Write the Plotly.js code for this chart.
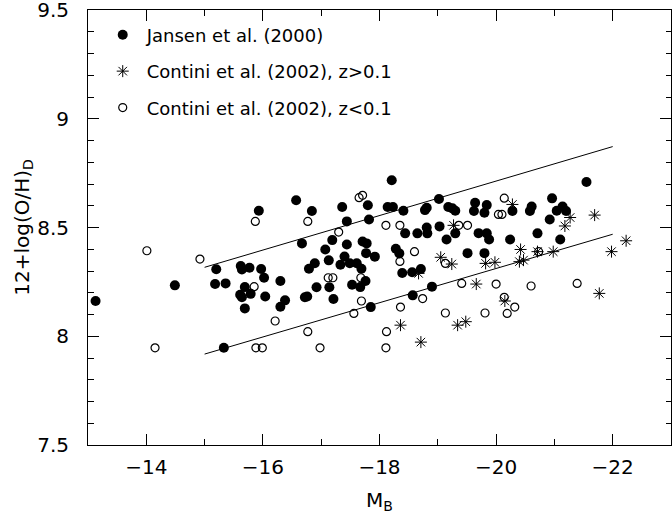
<!DOCTYPE html>
<html>
<head>
<meta charset="utf-8">
<script src="https://cdn.plot.ly/plotly-3.0.1.min.js"></script>
<style>
  html, body { margin: 0; padding: 0; background: #fff; }
  #chart { width: 672px; height: 529px; }
</style>
</head>
<body>
<div id="chart"></div>
<script>
// Jansen et al. (2000) — filled circles
const jansenMB = [
  -13.13, -14.49, -15.20, -15.18, -15.36, -15.33,
  -15.93, -16.57, -16.84, -17.36, -17.80, -17.44, -17.82, -16.67, -17.19, -17.07,
  -17.44, -17.71, -17.78, -17.77, -17.92, -17.40, -17.13, -16.89, -16.79, -17.33,
  -17.49, -17.61, -17.69, -15.62, -15.64, -15.77, -15.97, -16.02, -16.30, -15.69,
  -15.61, -15.64, -15.79, -15.69, -16.04, -16.38, -16.30, -16.72, -16.76, -16.92,
  -17.14, -17.21, -17.53, -17.67, -17.76, -17.85,
  -18.21, -18.14, -18.23, -18.41, -18.78, -18.81, -19.02, -19.18, -19.25, -19.30,
  -19.64, -19.62, -19.80, -19.84, -20.28, -18.44, -18.65, -18.81, -18.82, -19.03,
  -19.15, -19.30, -19.70, -19.84, -19.88, -20.24, -18.28, -18.34, -19.51, -19.80,
  -18.39, -18.56, -18.71, -18.90, -18.57,
  -21.55, -20.96, -20.61, -20.58, -21.04, -21.14, -21.20, -20.92, -20.71, -21.10
];
const jansenOH = [
  8.162, 8.234, 8.308, 8.240, 8.243, 7.947,
  8.577, 8.625, 8.576, 8.594, 8.602, 8.528, 8.537, 8.427, 8.442, 8.399,
  8.422, 8.436, 8.427, 8.382, 8.366, 8.367, 8.349, 8.336, 8.310, 8.329,
  8.336, 8.336, 8.310, 8.323, 8.307, 8.315, 8.309, 8.269, 8.254, 8.226,
  8.191, 8.179, 8.195, 8.128, 8.183, 8.165, 8.136, 8.179, 8.183, 8.225,
  8.225, 8.171, 8.237, 8.226, 8.254, 8.134,
  8.717, 8.594, 8.594, 8.577, 8.580, 8.591, 8.631, 8.594, 8.588, 8.577,
  8.614, 8.576, 8.568, 8.603, 8.576, 8.473, 8.473, 8.500, 8.473, 8.505,
  8.445, 8.473, 8.474, 8.473, 8.445, 8.445, 8.402, 8.381, 8.382, 8.382,
  8.291, 8.294, 8.309, 8.228, 8.188,
  8.709, 8.634, 8.596, 8.576, 8.577, 8.596, 8.576, 8.537, 8.473, 8.445
];

// Contini et al. (2002), z>0.1 — asterisks
const contHiMB = [
  -20.28, -19.27, -19.05, -19.24, -18.67, -19.82, -19.98, -19.66, -20.15, -18.36,
  -19.34, -19.48, -18.71, -21.27, -21.18, -21.69, -20.42, -20.71, -20.98, -20.40,
  -20.47, -21.98, -22.23, -21.77
];
const contHiOH = [
  8.606, 8.510, 8.363, 8.332, 8.289, 8.335, 8.340, 8.240, 8.162, 8.051,
  8.051, 8.067, 7.973, 8.546, 8.507, 8.557, 8.399, 8.389, 8.389, 8.343,
  8.350, 8.389, 8.439, 8.197
];

// Contini et al. (2002), z<0.1 — open circles
const contLoMB = [
  -14.01, -14.92, -14.15,
  -15.87, -16.77, -17.30, -17.65, -17.71, -17.12, -17.20, -17.68, -15.85, -17.69,
  -17.56, -16.21, -16.77, -15.88, -15.99, -16.98,
  -18.11, -18.35, -19.36, -19.51, -20.14, -20.04, -20.10, -18.60, -18.35, -19.13,
  -19.41, -20.00, -18.74, -18.36, -20.14, -20.32, -20.19, -19.13, -19.81, -18.12,
  -18.11,
  -20.73, -20.60, -21.39
];
const contLoOH = [
  8.393, 8.355, 7.947,
  8.528, 8.528, 8.479, 8.637, 8.648, 8.269, 8.269, 8.269, 8.228, 8.162,
  8.105, 8.070, 8.021, 7.947, 7.947, 7.947,
  8.510, 8.510, 8.510, 8.510, 8.635, 8.560, 8.560, 8.389, 8.344, 8.335,
  8.243, 8.240, 8.173, 8.134, 8.179, 8.134, 8.105, 8.107, 8.107, 8.021,
  7.947,
  8.389, 8.231, 8.243
];

// Envelope lines
const lineMB = [-15, -22];
const upperOH = [8.317, 8.872];
const lowerOH = [7.918, 8.469];

const xTicks = [-14, -16, -18, -20, -22];
const yTicks = [7.5, 8, 8.5, 9, 9.5];
const yTickText = ['7.5', '8', '8.5', '9', '9.5'];
const legendNames = [
  'Jansen et al. (2000)',
  'Contini et al. (2002), z>0.1',
  'Contini et al. (2002), z<0.1'
];

const FONT = 'DejaVu Sans, Liberation Sans, sans-serif';

const traces = [
  { x: lineMB, y: upperOH, mode: 'lines', line: {color: '#000', width: 1}, showlegend: false, hoverinfo: 'skip' },
  { x: lineMB, y: lowerOH, mode: 'lines', line: {color: '#000', width: 1}, showlegend: false, hoverinfo: 'skip' },
  { x: jansenMB, y: jansenOH, mode: 'markers', name: legendNames[0], legendgroup: 'a',
    marker: {symbol: 'circle', size: 10, color: '#000', line: {width: 0}} },
  { x: contHiMB, y: contHiOH, mode: 'markers', name: legendNames[1], legendgroup: 'b',
    marker: {symbol: 'asterisk-open', size: 10, color: '#000', line: {width: 1, color: '#000'}} },
  { x: contLoMB, y: contLoOH, mode: 'markers', name: legendNames[2], legendgroup: 'c',
    marker: {symbol: 'circle-open', size: 8, color: '#000', line: {width: 1.2, color: '#000'}} }
];

const layout = {
  width: 672, height: 529,
  margin: {l: 88, r: 1, t: 10, b: 84},
  paper_bgcolor: '#fff', plot_bgcolor: '#fff',
  font: {family: FONT, color: '#000', size: 20},
  showlegend: true,
  legend: {
    x: 0.0184, y: 0.985, xanchor: 'left', yanchor: 'top',
    bgcolor: 'rgba(0,0,0,0)', borderwidth: 0, itemwidth: 38,
    font: {family: FONT, size: 18, color: '#000'},
    traceorder: 'grouped', tracegroupgap: 10
  },
  xaxis: {
    range: [-13, -23], tickmode: 'array', tickvals: xTicks,
    ticks: 'inside', ticklen: 11, tickwidth: 1, tickcolor: '#000',
    minor: {tick0: -13, dtick: 1, ticks: 'inside', ticklen: 6, tickwidth: 1, tickcolor: '#000'},
    showline: true, linecolor: '#000', linewidth: 1, mirror: 'allticks',
    showgrid: false, zeroline: false,
    tickfont: {family: FONT, size: 20}, ticklabelstandoff: 4,
    title: {text: 'M<sub>B</sub>', font: {family: FONT, size: 20}, standoff: 14}
  },
  yaxis: {
    range: [7.5, 9.5], tickmode: 'array', tickvals: yTicks, ticktext: yTickText,
    ticks: 'inside', ticklen: 11, tickwidth: 1, tickcolor: '#000',
    minor: {tick0: 7.5, dtick: 0.1, ticks: 'inside', ticklen: 5.5, tickwidth: 1, tickcolor: '#000'},
    showline: true, linecolor: '#000', linewidth: 1, mirror: 'allticks',
    showgrid: false, zeroline: false,
    tickfont: {family: FONT, size: 20}, ticklabelstandoff: 14, ticklabeloverflow: 'allow',
    title: {text: '12+log(O/H)<sub>D</sub>', font: {family: FONT, size: 20}, standoff: 2}
  }
};

Plotly.newPlot('chart', traces, layout, {staticPlot: true, displayModeBar: false});
</script>
</body>
</html>
